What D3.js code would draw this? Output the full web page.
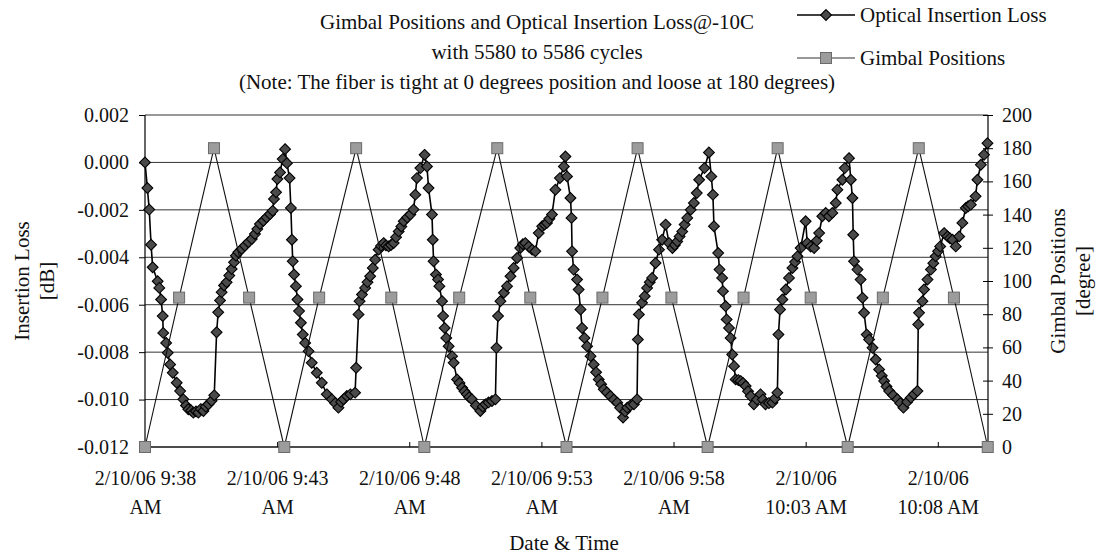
<!DOCTYPE html>
<html>
<head>
<meta charset="utf-8">
<title>Gimbal Positions and Optical Insertion Loss@-10C</title>
<script src="https://cdn.jsdelivr.net/npm/d3@7"></script>
<style>
  html, body { margin: 0; padding: 0; background: #fff; }
  svg text { font-family: "Liberation Serif", "Times New Roman", serif; fill: #111; }
</style>
</head>
<body>
<svg id="chart"></svg>
<script>
// ── Data ──────────────────────────────────────────────────────────────────────
// Times are minutes after 2/10/06 9:38 AM.
const START = new Date(2006, 1, 10, 9, 38, 0);
const END_MINUTE = 31.9;

// Optical insertion loss [minute, dB]
const lossPoints = [
  [0.00, 0.00000], [0.09, -0.00108], [0.16, -0.00199], [0.23, -0.00347], [0.29, -0.00442],
  [0.48, -0.00501], [0.54, -0.00529], [0.61, -0.00578], [0.67, -0.00648], [0.69, -0.00719],
  [0.80, -0.00761], [0.86, -0.00803], [0.95, -0.00852], [1.05, -0.00887], [1.20, -0.00929],
  [1.33, -0.00964], [1.45, -0.00999], [1.55, -0.01025], [1.64, -0.01041], [1.75, -0.01046],
  [1.83, -0.01055], [1.93, -0.01050], [2.02, -0.01055], [2.11, -0.01040], [2.21, -0.01048],
  [2.30, -0.01030], [2.40, -0.01020], [2.52, -0.01005], [2.62, -0.00982], [2.71, -0.00716],
  [2.77, -0.00632], [2.84, -0.00582], [2.90, -0.00547], [2.99, -0.00519], [3.09, -0.00505],
  [3.19, -0.00477], [3.28, -0.00449], [3.37, -0.00421], [3.44, -0.00393], [3.53, -0.00379],
  [3.66, -0.00365], [3.78, -0.00351], [3.91, -0.00337], [4.04, -0.00323], [4.16, -0.00302],
  [4.25, -0.00281], [4.35, -0.00260], [4.48, -0.00246], [4.60, -0.00232], [4.73, -0.00218],
  [4.83, -0.00204], [4.88, -0.00154], [4.96, -0.00126], [5.01, -0.00070], [5.11, -0.00042],
  [5.21, 0.00014], [5.30, 0.00056],

  [5.37, -0.00003], [5.47, -0.00066], [5.52, -0.00192], [5.56, -0.00326], [5.59, -0.00417],
  [5.64, -0.00473], [5.71, -0.00522], [5.77, -0.00578], [5.83, -0.00627], [5.90, -0.00676],
  [5.97, -0.00726], [6.06, -0.00761], [6.19, -0.00796], [6.31, -0.00845], [6.50, -0.00887],
  [6.69, -0.00929], [6.88, -0.00978], [7.07, -0.00999], [7.20, -0.01015], [7.32, -0.01034],
  [7.42, -0.01010], [7.51, -0.00999], [7.64, -0.00985], [7.77, -0.00978], [7.95, -0.00971],
  [7.99, -0.00866], [8.08, -0.00641], [8.12, -0.00585], [8.21, -0.00557], [8.33, -0.00529],
  [8.42, -0.00505], [8.52, -0.00480], [8.62, -0.00445], [8.71, -0.00410], [8.84, -0.00368],
  [8.93, -0.00352], [9.03, -0.00340], [9.12, -0.00350], [9.22, -0.00354], [9.31, -0.00348],
  [9.41, -0.00340], [9.50, -0.00315], [9.60, -0.00291], [9.70, -0.00270], [9.79, -0.00248],
  [9.92, -0.00232], [10.04, -0.00220], [10.16, -0.00199], [10.23, -0.00136], [10.29, -0.00066],
  [10.42, -0.00024], [10.58, 0.00032],

  [10.67, -0.00017], [10.73, -0.00108], [10.86, -0.00220], [10.89, -0.00326], [10.92, -0.00417],
  [11.01, -0.00473], [11.09, -0.00494], [11.14, -0.00522], [11.24, -0.00585], [11.28, -0.00648],
  [11.34, -0.00698], [11.40, -0.00740], [11.49, -0.00775], [11.62, -0.00817], [11.68, -0.00845],
  [11.81, -0.00915], [11.90, -0.00930], [12.00, -0.00950], [12.09, -0.00965], [12.18, -0.00978],
  [12.27, -0.00990], [12.37, -0.00999], [12.52, -0.01025], [12.69, -0.01048], [12.78, -0.01030],
  [12.88, -0.01020], [13.00, -0.01012], [13.13, -0.01006], [13.26, -0.00999], [13.30, -0.00782],
  [13.36, -0.00648], [13.45, -0.00585], [13.58, -0.00550], [13.70, -0.00522], [13.83, -0.00480],
  [13.95, -0.00445], [14.08, -0.00403], [14.20, -0.00361], [14.30, -0.00345], [14.39, -0.00340],
  [14.52, -0.00355], [14.65, -0.00368], [14.77, -0.00375], [14.90, -0.00298], [15.03, -0.00269],
  [15.12, -0.00262], [15.21, -0.00255], [15.30, -0.00238], [15.40, -0.00220], [15.53, -0.00115],
  [15.70, -0.00066], [15.85, -0.00017], [15.91, 0.00025],

  [15.97, -0.00059], [16.10, -0.00150], [16.14, -0.00234], [16.16, -0.00375], [16.22, -0.00452],
  [16.35, -0.00494], [16.41, -0.00536], [16.48, -0.00620], [16.54, -0.00698], [16.63, -0.00740],
  [16.73, -0.00775], [16.86, -0.00817], [16.98, -0.00852], [17.07, -0.00885], [17.17, -0.00915],
  [17.26, -0.00935], [17.36, -0.00957], [17.48, -0.00970], [17.61, -0.00985], [17.74, -0.01000],
  [17.87, -0.01013], [17.98, -0.01035], [18.09, -0.01076], [18.17, -0.01050], [18.25, -0.01034],
  [18.37, -0.01025], [18.50, -0.01020], [18.62, -0.00999], [18.65, -0.00747], [18.69, -0.00641],
  [18.81, -0.00592], [18.91, -0.00564], [19.00, -0.00529], [19.10, -0.00505], [19.19, -0.00487],
  [19.32, -0.00424], [19.45, -0.00368], [19.57, -0.00326], [19.70, -0.00262], [19.83, -0.00340],
  [19.96, -0.00361], [20.05, -0.00348], [20.14, -0.00333], [20.23, -0.00312], [20.33, -0.00291],
  [20.42, -0.00262], [20.52, -0.00234], [20.65, -0.00200], [20.77, -0.00171], [20.88, -0.00129],
  [20.97, -0.00073], [21.17, -0.00024], [21.34, 0.00042],

  [21.43, -0.00059], [21.49, -0.00136], [21.53, -0.00269], [21.69, -0.00382], [21.74, -0.00452],
  [21.84, -0.00487], [21.87, -0.00543], [21.97, -0.00606], [22.01, -0.00662], [22.10, -0.00698],
  [22.16, -0.00740], [22.22, -0.00810], [22.29, -0.00859], [22.35, -0.00915], [22.45, -0.00918],
  [22.54, -0.00922], [22.63, -0.00930], [22.73, -0.00943], [22.82, -0.00965], [22.92, -0.00985],
  [23.04, -0.01020], [23.16, -0.01000], [23.29, -0.00978], [23.38, -0.01000], [23.48, -0.01020],
  [23.61, -0.01015], [23.74, -0.01013], [23.84, -0.00995], [23.93, -0.00971], [23.97, -0.00726],
  [24.03, -0.00620], [24.12, -0.00578], [24.25, -0.00536], [24.37, -0.00487], [24.50, -0.00445],
  [24.60, -0.00420], [24.69, -0.00396], [24.81, -0.00361], [25.00, -0.00248], [25.06, -0.00340],
  [25.19, -0.00355], [25.32, -0.00361], [25.42, -0.00330], [25.51, -0.00298], [25.63, -0.00227],
  [25.76, -0.00213], [25.88, -0.00227], [26.01, -0.00213], [26.14, -0.00171], [26.20, -0.00115],
  [26.39, -0.00073], [26.48, -0.00024], [26.64, 0.00018],

  [26.71, -0.00073], [26.77, -0.00150], [26.80, -0.00305], [26.83, -0.00417], [26.96, -0.00452],
  [27.08, -0.00494], [27.15, -0.00571], [27.21, -0.00634], [27.31, -0.00726], [27.40, -0.00747],
  [27.53, -0.00782], [27.65, -0.00831], [27.78, -0.00873], [27.88, -0.00900], [27.97, -0.00922],
  [28.06, -0.00945], [28.16, -0.00964], [28.31, -0.00982], [28.47, -0.00999], [28.58, -0.01015],
  [28.70, -0.01034], [28.84, -0.01010], [28.98, -0.00992], [29.10, -0.00978], [29.23, -0.00964],
  [29.26, -0.00683], [29.29, -0.00634], [29.42, -0.00585], [29.48, -0.00536], [29.61, -0.00494],
  [29.74, -0.00452], [29.83, -0.00425], [29.92, -0.00396], [30.01, -0.00375], [30.09, -0.00354],
  [30.24, -0.00298], [30.37, -0.00312], [30.46, -0.00320], [30.56, -0.00326], [30.68, -0.00354],
  [30.81, -0.00312], [30.93, -0.00255], [31.06, -0.00192], [31.15, -0.00185], [31.25, -0.00178],
  [31.43, -0.00143], [31.50, -0.00073], [31.63, -0.00010], [31.75, 0.00032], [31.88, 0.00081],
];

// Gimbal positions: minute and angle in degrees
const gimbalMinutes = [
  0.00, 1.29, 2.61, 3.94, 5.27, 6.59, 7.99, 9.32, 10.57, 11.89, 13.33, 14.58, 15.95,
  17.31, 18.64, 19.92, 21.29, 22.65, 23.94, 25.19, 26.59, 27.92, 29.28, 30.61, 31.89,
];
const gimbalDegrees = [
  0, 90, 180, 90, 0, 90, 180, 90, 0, 90, 180, 90, 0,
  90, 180, 90, 0, 90, 180, 90, 0, 90, 180, 90, 0,
];

// Axis ticks and labels
const lossTicks   = [-0.012, -0.010, -0.008, -0.006, -0.004, -0.002, 0.000, 0.002];
const gimbalTicks = [0, 20, 40, 60, 80, 100, 120, 140, 160, 180, 200];
const timeTickMinutes = [0, 5, 10, 15, 20, 25, 30];
const timeTickLabels = [
  ['2/10/06 9:38', 'AM'],
  ['2/10/06 9:43', 'AM'],
  ['2/10/06 9:48', 'AM'],
  ['2/10/06 9:53', 'AM'],
  ['2/10/06 9:58', 'AM'],
  ['2/10/06', '10:03 AM'],
  ['2/10/06', '10:08 AM'],
];

const titleLines = [
  'Gimbal Positions and Optical Insertion Loss@-10C',
  'with 5580 to 5586 cycles',
  '(Note: The fiber is tight at 0 degrees position and loose at 180 degrees)',
];
const seriesNames = ['Optical Insertion Loss', 'Gimbal Positions'];

// ── Layout ────────────────────────────────────────────────────────────────────
const W = 1097, H = 559;
const plot = { left: 145, right: 988, top: 115, bottom: 447 };

const atMinute = m => new Date(START.getTime() + m * 60000);

const x = d3.scaleTime()
  .domain([START, atMinute(END_MINUTE)])
  .range([plot.left, plot.right]);

const yLoss = d3.scaleLinear()
  .domain([-0.012, 0.002])
  .range([plot.bottom, plot.top]);

const yGimbal = d3.scaleLinear()
  .domain([0, 200])
  .range([plot.bottom, plot.top]);

const svg = d3.select('#chart')
  .attr('width', W)
  .attr('height', H)
  .attr('viewBox', `0 0 ${W} ${H}`);

// marker shapes
const diamondPath = r => `M0,${-r}L${r},0L0,${r}L${-r},0Z`;
const DIAMOND = 5.4;
const SQUARE = 11;

// ── Gridlines ─────────────────────────────────────────────────────────────────
svg.append('g')
  .attr('class', 'grid')
  .selectAll('line')
  .data(lossTicks)
  .join('line')
    .attr('x1', plot.left)
    .attr('x2', plot.right)
    .attr('y1', d => yLoss(d))
    .attr('y2', d => yLoss(d))
    .attr('stroke', '#333')
    .attr('stroke-width', 1);

// ── Axes ──────────────────────────────────────────────────────────────────────
const leftAxis = svg.append('g')
  .attr('transform', `translate(${plot.left},0)`)
  .call(d3.axisLeft(yLoss)
    .tickValues(lossTicks)
    .tickSize(6)
    .tickPadding(10)
    .tickFormat(d => d.toFixed(3)));

const rightAxis = svg.append('g')
  .attr('transform', `translate(${plot.right},0)`)
  .call(d3.axisRight(yGimbal)
    .tickValues(gimbalTicks)
    .tickSize(5)
    .tickPadding(9)
    .tickFormat(d3.format('d')));
// right-axis ticks cross the axis line
rightAxis.selectAll('.tick line').attr('x1', -5).attr('x2', 5);

const bottomAxis = svg.append('g')
  .attr('transform', `translate(0,${plot.bottom})`)
  .call(d3.axisBottom(x)
    .tickValues(timeTickMinutes.map(atMinute))
    .tickSize(-5)
    .tickFormat(''));

[leftAxis, rightAxis, bottomAxis].forEach(g => {
  g.select('.domain').attr('stroke', '#000').attr('stroke-width', 1.2);
  g.selectAll('.tick line').attr('stroke', '#000');
  g.selectAll('.tick text')
    .attr('font-family', '"Liberation Serif", serif')
    .attr('font-size', '20px')
    .attr('fill', '#111');
});
leftAxis.select('.domain').attr('d', `M0,${plot.top}V${plot.bottom}`);
rightAxis.select('.domain').attr('d', `M0,${plot.top}V${plot.bottom}`);
bottomAxis.select('.domain').attr('d', `M${plot.left},0H${plot.right}`);

// two-line time labels
bottomAxis.selectAll('.tick')
  .each(function (d, i) {
    const t = d3.select(this).append('text')
      .attr('text-anchor', 'middle')
      .attr('font-size', '20px')
      .attr('fill', '#111');
    t.append('tspan').attr('x', 0).attr('y', 38).text(timeTickLabels[i][0]);
    t.append('tspan').attr('x', 0).attr('y', 67).text(timeTickLabels[i][1]);
  });

// ── Series: optical insertion loss ────────────────────────────────────────────
const lossLine = d3.line()
  .x(d => x(atMinute(d[0])))
  .y(d => yLoss(d[1]));

svg.append('path')
  .datum(lossPoints)
  .attr('fill', 'none')
  .attr('stroke', '#000')
  .attr('stroke-width', 1.6)
  .attr('d', lossLine);

svg.append('g')
  .attr('class', 'loss-markers')
  .selectAll('path')
  .data(lossPoints)
  .join('path')
    .attr('transform', d => `translate(${x(atMinute(d[0]))},${yLoss(d[1])})`)
    .attr('d', diamondPath(DIAMOND))
    .attr('fill', '#4a4a4a')
    .attr('stroke', '#000')
    .attr('stroke-width', 1.1);

// ── Series: gimbal positions ──────────────────────────────────────────────────
const gimbalData = gimbalMinutes.map((m, i) => [m, gimbalDegrees[i]]);

svg.append('path')
  .datum(gimbalData)
  .attr('fill', 'none')
  .attr('stroke', '#111')
  .attr('stroke-width', 1.1)
  .attr('d', d3.line()
    .x(d => x(atMinute(d[0])))
    .y(d => yGimbal(d[1])));

svg.append('g')
  .attr('class', 'gimbal-markers')
  .selectAll('rect')
  .data(gimbalData)
  .join('rect')
    .attr('x', d => x(atMinute(d[0])) - SQUARE / 2)
    .attr('y', d => yGimbal(d[1]) - SQUARE / 2)
    .attr('width', SQUARE)
    .attr('height', SQUARE)
    .attr('fill', '#9c9c9c')
    .attr('stroke', '#6a6a6a')
    .attr('stroke-width', 1);

// ── Titles ────────────────────────────────────────────────────────────────────
svg.append('g')
  .selectAll('text')
  .data(titleLines)
  .join('text')
    .attr('x', 537)
    .attr('y', (d, i) => 29 + i * 30)
    .attr('text-anchor', 'middle')
    .attr('font-size', '21px')
    .text(d => d);

// axis titles
const axisTitle = (cx, cy, lines) => {
  const t = svg.append('text')
    .attr('transform', `translate(${cx},${cy}) rotate(-90)`)
    .attr('text-anchor', 'middle')
    .attr('font-size', '21px');
  lines.forEach((s, i) => t.append('tspan')
    .attr('x', 0)
    .attr('y', (i - (lines.length - 1) / 2) * 25 + 7)
    .text(s));
};
axisTitle(34, (plot.top + plot.bottom) / 2, ['Insertion Loss', '[dB]']);
axisTitle(1070, (plot.top + plot.bottom) / 2, ['Gimbal Positions', '[degree]']);

svg.append('text')
  .attr('x', 564)
  .attr('y', 550)
  .attr('text-anchor', 'middle')
  .attr('font-size', '21px')
  .text('Date & Time');

// ── Legend ────────────────────────────────────────────────────────────────────
const legend = svg.append('g').attr('class', 'legend');
const legendRows = [
  { y: 15, name: seriesNames[0], marker: 'diamond' },
  { y: 58, name: seriesNames[1], marker: 'square' },
];
legendRows.forEach(r => {
  legend.append('line')
    .attr('x1', 797).attr('x2', 855)
    .attr('y1', r.y).attr('y2', r.y)
    .attr('stroke', r.marker === 'diamond' ? '#000' : '#333')
    .attr('stroke-width', r.marker === 'diamond' ? 1.6 : 1.1);
  if (r.marker === 'diamond') {
    legend.append('path')
      .attr('transform', `translate(826,${r.y})`)
      .attr('d', diamondPath(DIAMOND))
      .attr('fill', '#4a4a4a')
      .attr('stroke', '#000')
      .attr('stroke-width', 1.1);
  } else {
    legend.append('rect')
      .attr('x', 826 - SQUARE / 2).attr('y', r.y - SQUARE / 2)
      .attr('width', SQUARE).attr('height', SQUARE)
      .attr('fill', '#9c9c9c')
      .attr('stroke', '#6a6a6a');
  }
  legend.append('text')
    .attr('x', 860)
    .attr('y', r.y + 7)
    .attr('font-size', '21px')
    .text(r.name);
});
</script>
</body>
</html>
